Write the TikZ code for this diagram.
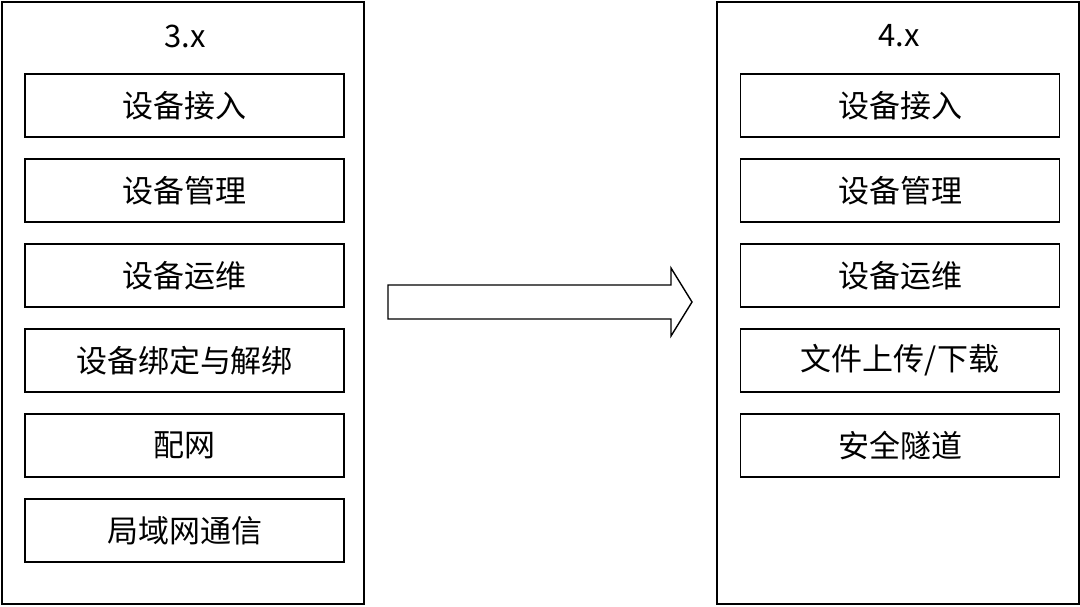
\documentclass[tikz,border=0pt]{standalone}
\usepackage{fontspec}
\setmainfont{Noto Sans CJK SC}
\usepackage{tikz}
\definecolor{VLine}{HTML}{000000}

\begin{document}
\begin{tikzpicture}[x=1pt,y=-1pt,
  panel/.style={draw=VLine,line width=1.4pt,minimum width=362pt,minimum height=602pt,inner sep=0pt},
  item/.style={draw=VLine,line width=1.3pt,minimum width=319pt,minimum height=63pt,inner sep=0pt,font=\fontsize{31}{34}\selectfont},
  title/.style={font=\fontsize{31}{34}\selectfont}]
\path[use as bounding box] (0,0) rectangle (1080,606);
\node[panel] (old) at (183,303) {};
\node[title] (oldtitle) at (185,36) {3.x};
\node[item] (old1) at (184.5,105.5) {\raisebox{-2pt}{设备接入}};
\node[item] (old2) at (184.5,190.5) {\raisebox{-2pt}{设备管理}};
\node[item] (old3) at (184.5,275.5) {\raisebox{-2pt}{设备运维}};
\node[item] (old4) at (184.5,360.5) {\raisebox{-2pt}{设备绑定与解绑}};
\node[item] (old5) at (184.5,445.5) {\raisebox{-2pt}{配网}};
\node[item] (old6) at (184.5,530.5) {\raisebox{-2pt}{局域网通信}};
\node[panel] (new) at (898,303) {};
\node[title] (newtitle) at (899,36) {4.x};
\node[item] (new1) at (900,105.5) {\raisebox{-2pt}{设备接入}};
\node[item] (new2) at (900,190.5) {\raisebox{-2pt}{设备管理}};
\node[item] (new3) at (900,275.5) {\raisebox{-2pt}{设备运维}};
\node[item] (new4) at (900,360.5) {\raisebox{-2pt}{文件上传/下载}};
\node[item] (new5) at (900,445.5) {\raisebox{-2pt}{安全隧道}};
\draw[VLine,line width=1.4pt,line join=miter] (388,285) -- (671,285) -- (671,268) -- (692,302)
  -- (671,336) -- (671,319) -- (388,319) -- cycle;
\end{tikzpicture}
\end{document}
